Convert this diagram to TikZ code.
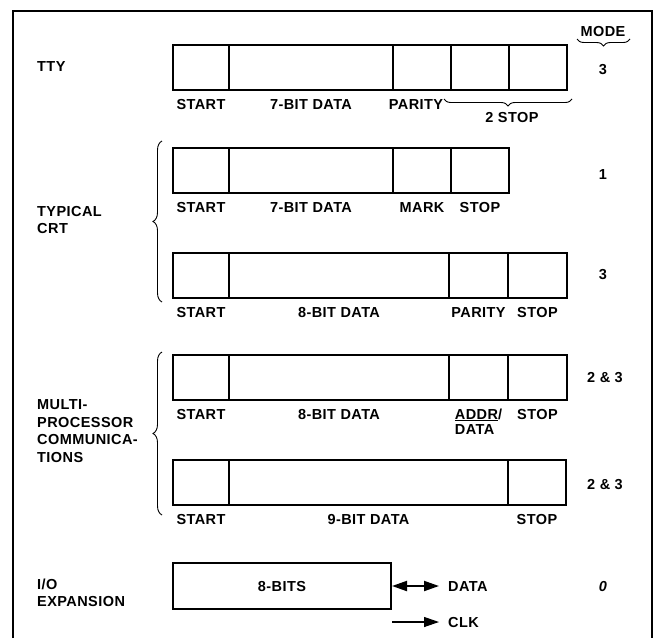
\documentclass[tikz,border=0pt]{standalone}
\usepackage{fontspec}
\setmainfont{Liberation Sans}[LetterSpace=3]
\usetikzlibrary{positioning,arrows.meta,decorations.pathreplacing}

\begin{document}
\begin{tikzpicture}[x=1pt, y=-1pt, >={Triangle[length=15pt,width=10pt]},
    font=\fontsize{14.5}{17.5}\selectfont\bfseries,
    node distance=0pt,
    field/.style={draw, line width=2.6pt, minimum height=45pt, inner sep=0pt, outer sep=0pt},
    lab/.style={anchor=base, inner sep=0pt},
    grp/.style={anchor=west, align=left, inner sep=0pt},
    modenum/.style={inner sep=0pt},
    brc/.style={decorate, decoration={brace, amplitude=7pt}, line width=0.9pt}]
  \useasboundingbox (0,0) rectangle (655,638);
  % frame
  \draw[line width=1.8pt] (13,638) -- (13,11) -- (652,11) -- (652,638);

  % TTY
  \node[grp] (g-tty) at (37,67) {TTY};
  \node[field, minimum width=56pt, anchor=north west] (tty-start) at (173,45) {};
  \node[field, minimum width=164pt, right=of tty-start] (tty-data) {};
  \node[field, minimum width=58pt, right=of tty-data] (tty-par) {};
  \node[field, minimum width=58pt, right=of tty-par] (tty-stop1) {};
  \node[field, minimum width=58pt, right=of tty-stop1] (tty-stop2) {};
  \node[lab] (tty-l1) at ([yshift=-19pt]tty-start.south) {START};
  \node[lab] (tty-l2) at ([yshift=-19pt]tty-data.south) {7-BIT DATA};
  \node[lab] (tty-l3) at ([yshift=-19pt, xshift=-6pt]tty-par.south) {PARITY};
  \draw[brc, decoration={mirror}] (444,99) -- (572,99);
  \node[modenum] (tty-l4) at (512,118) {2 STOP};

  % typical CRT
  \node[grp] (g-crt) at (37,220) {TYPICAL\\CRT};
  \draw[brc, decoration={amplitude=9pt}] (162,302) -- (162,141);
  \node[field, minimum width=56pt, anchor=north west] (crt1-start) at (173,148) {};
  \node[field, minimum width=164pt, right=of crt1-start] (crt1-data) {};
  \node[field, minimum width=58pt, right=of crt1-data] (crt1-mark) {};
  \node[field, minimum width=58pt, right=of crt1-mark] (crt1-stop) {};
  \node[lab] (crt1-l1) at ([yshift=-19pt]crt1-start.south) {START};
  \node[lab] (crt1-l2) at ([yshift=-19pt]crt1-data.south) {7-BIT DATA};
  \node[lab] (crt1-l3) at ([yshift=-19pt]crt1-mark.south) {MARK};
  \node[lab] (crt1-l4) at ([yshift=-19pt]crt1-stop.south) {STOP};

  \node[field, minimum width=56pt, anchor=north west] (crt2-start) at (173,253) {};
  \node[field, minimum width=220pt, right=of crt2-start] (crt2-data) {};
  \node[field, minimum width=59pt, right=of crt2-data] (crt2-par) {};
  \node[field, minimum width=59pt, right=of crt2-par] (crt2-stop) {};
  \node[lab] (crt2-l1) at ([yshift=-19pt]crt2-start.south) {START};
  \node[lab] (crt2-l2) at ([yshift=-19pt]crt2-data.south) {8-BIT DATA};
  \node[lab] (crt2-l3) at ([yshift=-19pt]crt2-par.south) {PARITY};
  \node[lab] (crt2-l4) at ([yshift=-19pt]crt2-stop.south) {STOP};

  % multiprocessor
  \node[grp] (g-mp) at (37,431) {MULTI-\\PROCESSOR\\COMMUNICA-\\TIONS};
  \draw[brc, decoration={amplitude=9pt}] (162,515) -- (162,352);
  \node[field, minimum width=56pt, anchor=north west] (mp1-start) at (173,355) {};
  \node[field, minimum width=220pt, right=of mp1-start] (mp1-data) {};
  \node[field, minimum width=59pt, right=of mp1-data] (mp1-addr) {};
  \node[field, minimum width=59pt, right=of mp1-addr] (mp1-stop) {};
  \node[lab] (mp1-l1) at ([yshift=-19pt]mp1-start.south) {START};
  \node[lab] (mp1-l2) at ([yshift=-19pt]mp1-data.south) {8-BIT DATA};
  \node[lab] (mp1-l3) at ([yshift=-19pt]mp1-addr.south) {\begin{tabular}[t]{@{}l@{}}\underline{ADDR}/\\[-2pt]DATA\end{tabular}};
  \node[lab] (mp1-l4) at ([yshift=-19pt]mp1-stop.south) {STOP};

  \node[field, minimum width=56pt, anchor=north west] (mp2-start) at (173,460) {};
  \node[field, minimum width=279pt, right=of mp2-start] (mp2-data) {};
  \node[field, minimum width=58pt, right=of mp2-data] (mp2-stop) {};
  \node[lab] (mp2-l1) at ([yshift=-19pt]mp2-start.south) {START};
  \node[lab] (mp2-l2) at ([yshift=-19pt]mp2-data.south) {9-BIT DATA};
  \node[lab] (mp2-l3) at ([yshift=-19pt]mp2-stop.south) {STOP};

  % I/O expansion
  \node[grp] (g-io) at (37,593) {I/O\\EXPANSION};
  \node[field, minimum width=218pt, minimum height=46pt, anchor=north west] (io) at (173,563) {8-BITS};
  \node[anchor=west, inner sep=0pt] (iodata) at (448,586) {DATA};
  \node[anchor=west, inner sep=0pt] (clk) at (448,622) {CLK};
  \coordinate (clkin) at (392,622);
  \draw[<->, line width=2pt, shorten <=1pt, shorten >=9pt] (io.east) -- (iodata.west);
  \draw[->, line width=1.2pt, shorten >=9pt] (clkin) -- (clk.west);

  % mode column
  \node[modenum] (mode) at (603,32) {MODE};
  \draw[brc, decoration={mirror}] (577,39) -- (630,39);
  \node[modenum] (m-tty) at (603,70) {3};
  \node[modenum] (m-crt1) at (603,175) {1};
  \node[modenum] (m-crt2) at (603,275) {3};
  \node[modenum] (m-mp1) at (605,378) {2 \& 3};
  \node[modenum] (m-mp2) at (605,485) {2 \& 3};
  \node[modenum] (m-io) at (603,586) {\itshape 0};
\end{tikzpicture}
\end{document}
